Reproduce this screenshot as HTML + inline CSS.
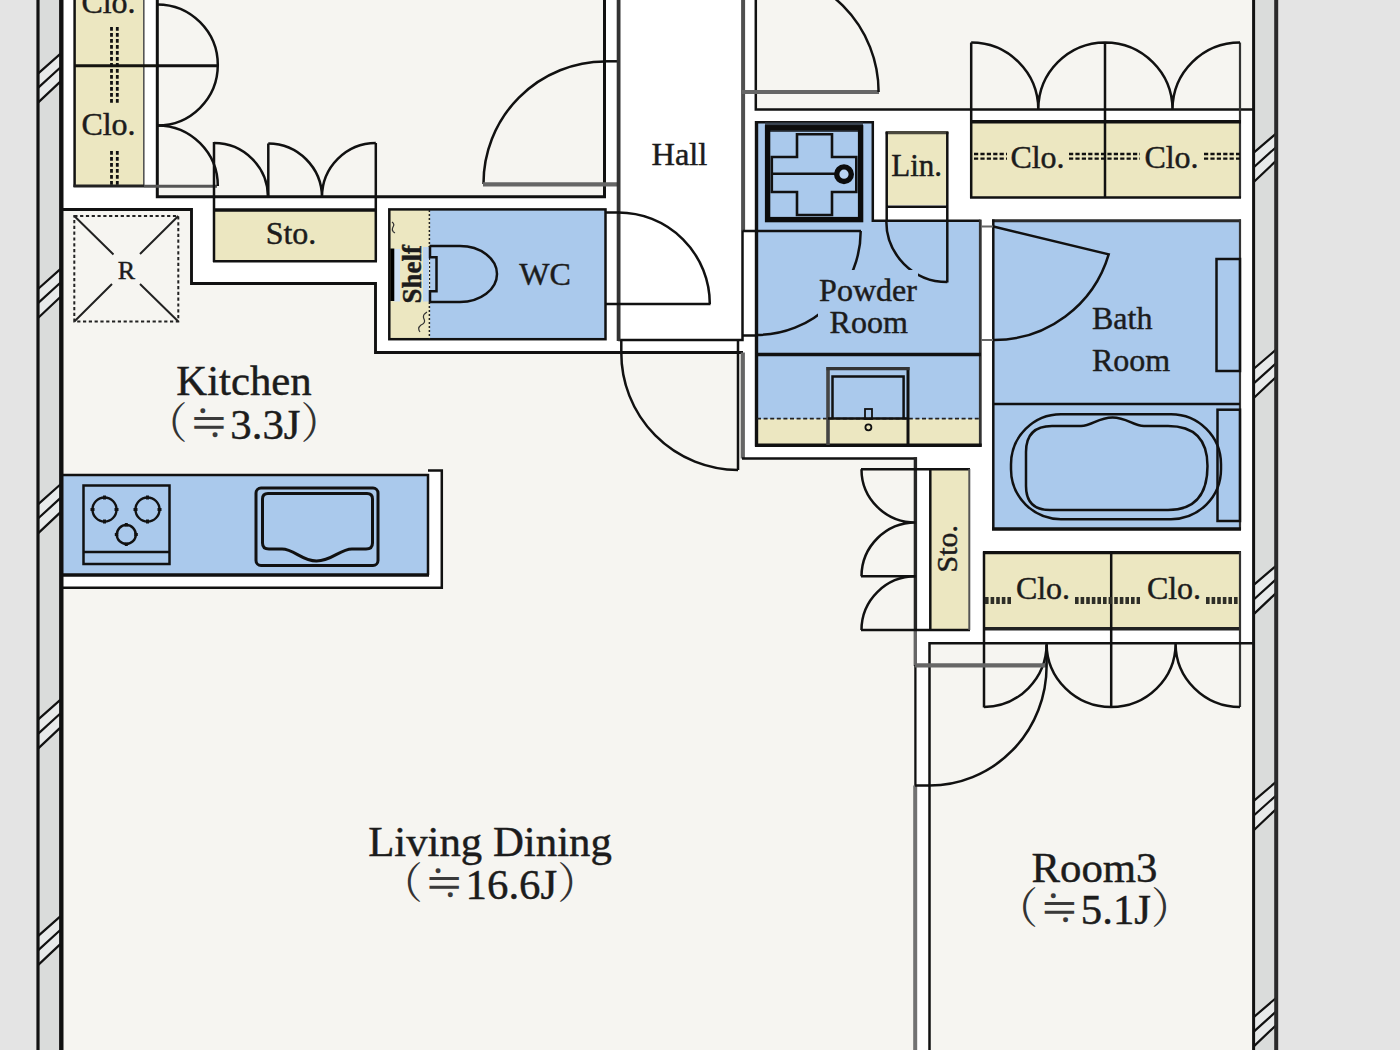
<!DOCTYPE html>
<html lang="ja">
<head>
<meta charset="utf-8">
<title>Floor Plan</title>
<style>
html,body{margin:0;padding:0;background:#e4e4e4;overflow:hidden;}
svg{display:block;}
.t{font-family:"Liberation Serif","Noto Serif CJK SC",serif;fill:#1c1c1c;stroke:#1c1c1c;stroke-width:0.45;}
.cj{font-family:"Noto Serif CJK JP","Noto Serif CJK SC",serif;stroke:none;fill:#333;}
.ip{font-family:"IPAGothic","Noto Sans CJK JP",sans-serif;stroke:none;fill:#3a3a3a;}
.l{fill:none;stroke:#111;stroke-width:2.5;}
.l3{fill:none;stroke:#111;stroke-width:3.4;}
.l1{fill:none;stroke:#111;stroke-width:1.5;}
.g{fill:none;stroke:#666;stroke-width:4.2;}
.room{fill:#f6f5f1;}
.blue{fill:#aac9ec;}
.yel{fill:#ece7c1;}
</style>
</head>
<body>
<svg width="1400" height="1050" viewBox="0 0 1400 1050">
<g id="plan">
<!-- ===== BASE ===== -->
<rect x="-20" y="-20" width="1440" height="1090" fill="#e4e4e4"/>
<rect x="38" y="-5" width="1238" height="1060" fill="#ffffff"/>

<!-- ===== FILLS ===== -->
<g id="fills">
<!-- outer wall bands -->
<rect x="38" y="-5" width="23" height="1060" fill="#dadcdb"/>
<rect x="1254" y="-5" width="22" height="1060" fill="#dadcdb"/>
<!-- top-left closets -->
<rect class="yel" x="75" y="-5" width="69" height="191"/>
<!-- top-left room -->
<rect class="room" x="157" y="-5" width="448" height="202"/>
<!-- kitchen + living dining -->
<path class="room" d="M62 209.5H191.5V283.5H375.5V352.5H744V459H916V1055H62Z"/>
<!-- sto horizontal -->
<rect class="yel" x="214" y="210" width="162" height="51"/>
<!-- WC -->
<rect class="yel" x="390" y="210" width="40" height="129"/>
<rect class="blue" x="430" y="210" width="175" height="129"/>
<!-- top-right room -->
<rect class="room" x="756" y="-5" width="498" height="115"/>
<!-- powder room -->
<path class="blue" d="M757 121H873V220H980V445H757Z"/>
<rect class="yel" x="757" y="419" width="223" height="26"/>
<!-- linen -->
<rect class="yel" x="886" y="132" width="61.5" height="73"/>
<!-- top-right closets -->
<rect class="yel" x="971" y="122" width="269" height="75"/>
<!-- bath -->
<rect class="blue" x="992.5" y="221" width="247.5" height="308"/>
<!-- sto vertical -->
<rect class="yel" x="930" y="469" width="40" height="161"/>
<!-- lower closets -->
<rect class="yel" x="984" y="552.5" width="256" height="76.5"/>
<!-- room3 -->
<rect class="room" x="929.5" y="643" width="324.5" height="412"/>
<!-- kitchen counter -->
<rect x="62" y="470" width="380" height="118" fill="#ffffff"/>
<rect class="room" x="62" y="460" width="366" height="15"/>
<rect class="blue" x="62" y="475" width="366" height="100"/>
</g>

<!-- window marks -->
<g id="marks">
<path d="M59.6 54.5L39.3 72.5V101.0L59.6 82.5Z" fill="#e8eaea"/><path d="M60.6 53.6L38.3 73.4M60.6 67.2L38.3 87.6M60.6 81.4L38.3 102.4" fill="none" stroke="#111" stroke-width="2.2"/>
<path d="M59.6 269.8L39.3 287.8V316.3L59.6 297.8Z" fill="#e8eaea"/><path d="M60.6 268.9L38.3 288.7M60.6 282.5L38.3 302.9M60.6 296.7L38.3 317.7" fill="none" stroke="#111" stroke-width="2.2"/>
<path d="M59.6 485.2L39.3 503.2V531.7L59.6 513.2Z" fill="#e8eaea"/><path d="M60.6 484.3L38.3 504.1M60.6 497.9L38.3 518.3M60.6 512.1L38.3 533.1" fill="none" stroke="#111" stroke-width="2.2"/>
<path d="M59.6 700.5L39.3 718.5V747.0L59.6 728.5Z" fill="#e8eaea"/><path d="M60.6 699.6L38.3 719.4M60.6 713.2L38.3 733.6M60.6 727.4L38.3 748.4" fill="none" stroke="#111" stroke-width="2.2"/>
<path d="M59.6 917.0L39.3 935.0V963.5L59.6 945.0Z" fill="#e8eaea"/><path d="M60.6 916.1L38.3 935.9M60.6 929.7L38.3 950.1M60.6 943.9L38.3 964.9" fill="none" stroke="#111" stroke-width="2.2"/>
<path d="M1275 134.5L1254.5 152.5V181.5L1275 162.0Z" fill="#e8eaea"/><path d="M1276 133.6L1253.5 152.9M1276 147.2L1253.5 167.5M1276 160.9L1253.5 182.2" fill="none" stroke="#111" stroke-width="2.2"/>
<path d="M1275 350.6L1254.5 368.6V397.6L1275 378.1Z" fill="#e8eaea"/><path d="M1276 349.7L1253.5 369.0M1276 363.3L1253.5 383.6M1276 377.0L1253.5 398.3" fill="none" stroke="#111" stroke-width="2.2"/>
<path d="M1275 566.7L1254.5 584.7V613.7L1275 594.2Z" fill="#e8eaea"/><path d="M1276 565.8L1253.5 585.1M1276 579.4L1253.5 599.7M1276 593.1L1253.5 614.4" fill="none" stroke="#111" stroke-width="2.2"/>
<path d="M1275 782.8L1254.5 800.8V829.8L1275 810.3Z" fill="#e8eaea"/><path d="M1276 781.9L1253.5 801.2M1276 795.5L1253.5 815.8M1276 809.2L1253.5 830.5" fill="none" stroke="#111" stroke-width="2.2"/>
<path d="M1275 998.9L1254.5 1016.9V1045.9L1275 1026.4Z" fill="#e8eaea"/><path d="M1276 998.0L1253.5 1017.3M1276 1011.6L1253.5 1031.9M1276 1025.3L1253.5 1046.6" fill="none" stroke="#111" stroke-width="2.2"/>
</g>
<!-- ===== OUTER WALLS ===== -->
<g id="outer">
<line x1="38" y1="-5" x2="38" y2="1055" stroke="#111" stroke-width="3.2"/>
<line x1="61.3" y1="-5" x2="61.3" y2="1055" stroke="#111" stroke-width="4.4"/>
<line x1="1253.6" y1="-5" x2="1253.6" y2="1055" stroke="#111" stroke-width="3"/>
<line x1="1276.2" y1="-5" x2="1276.2" y2="1055" stroke="#2a2a2a" stroke-width="4"/>
</g>

<!-- ===== LINES ===== -->
<g id="lines">
<!-- top-left room -->
<path class="l" style="stroke-width:3" d="M157.3 -5V196.800H604.500V-5"/>
<!-- kitchen/LD outline -->
<path class="l" style="stroke-width:2.9" d="M62 209.5H191.5V283.5H375.5V352.5H743"/>
<path class="g" d="M742.8 352.5V458.5" />
<path class="l" d="M742 458.500H917"/>
<line x1="915.400" y1="457.300" x2="915.400" y2="631" stroke="#262626" stroke-width="3.400"/>
<line x1="915.300" y1="630" x2="915.300" y2="666" stroke="#666" stroke-width="3.400"/>
<line x1="915.400" y1="665" x2="915.400" y2="786" stroke="#111" stroke-width="2.300"/>
<line x1="915.200" y1="785.500" x2="915.200" y2="1055" stroke="#727272" stroke-width="4"/>

<!-- top-left closets -->
<line class="l" x1="74.6" y1="-5" x2="74.6" y2="187"/>
<line x1="143.8" y1="-5" x2="143.8" y2="186" stroke="#555" stroke-width="1.6"/>
<line x1="75" y1="65.8" x2="157" y2="65.8" stroke="#15140f" stroke-width="3"/>
<line class="l" style="stroke-width:3" x1="157" y1="65.8" x2="217" y2="65.8"/>
<line x1="73.5" y1="186" x2="144" y2="186" stroke="#222" stroke-width="3"/>
<line x1="144" y1="186.3" x2="217" y2="186.3" stroke="#555" stroke-width="3"/>
<!-- closet hanger rails -->
<g stroke="#111" stroke-width="2.8" stroke-dasharray="3.8 2.2" fill="none">
<path d="M111.5 27V104M117.3 27V104"/>
<path d="M111.5 151V186M117.3 151V186"/>
</g>
<!-- closet bifold arcs -->
<path class="l" d="M157.3 4.5A60.5 60.5 0 0 1 157.3 125.5"/>
<path class="l" d="M157.3 125.5A60.5 60.5 0 0 1 217.8 186"/>
<!-- sto (horizontal) doors + box -->
<path class="l" d="M214 142V262M268.3 143.5V197M375.8 143V261.5"/>
<path class="l" d="M214 143A54 54 0 0 1 268 197M268.3 143.5A54 54 0 0 1 322 197M375.8 143A54 54 0 0 0 322 197"/>
<line class="l3" x1="214" y1="210" x2="376" y2="210"/>
<line class="l" x1="213" y1="261.3" x2="377" y2="261.3"/>
<!-- room door -->
<line class="l" x1="605" y1="61.3" x2="619" y2="61.3"/>
<path class="l" d="M605 61.5A122 122 0 0 0 483.5 184"/>
<line class="g" x1="483" y1="184.3" x2="618" y2="184.3"/>
<!-- hall -->
<path class="l" d="M618.3 340H742.5V230"/>
<line x1="618.600" y1="-5" x2="618.600" y2="341" stroke="#333" stroke-width="3.800"/>
<line x1="743.100" y1="-5" x2="743.100" y2="231" stroke="#505050" stroke-width="4"/>
<path class="l" d="M621.3 340V352.5M738 340V470"/>
<path class="l" d="M621.3 352.5A117 117 0 0 0 738 470"/>
<!-- WC -->
<rect class="l" x="389.3" y="209.4" width="216.2" height="129.8"/>
<line x1="429.4" y1="210" x2="429.4" y2="339" stroke="#222" stroke-width="1.5" stroke-dasharray="2 2"/>
<rect x="393.5" y="249" width="6.5" height="52.5" fill="#cfe1f6"/>
<rect x="423" y="247" width="6" height="54.5" fill="#bcd5f1"/>
<line x1="392.3" y1="248.5" x2="392.3" y2="301" stroke="#000" stroke-width="4"/>
<path class="l" d="M429.5 246H460A37 28 0 0 1 460 302H429.5"/>
<path class="l" d="M430 246V257.3H436.5V291.3H430V302"/>
<path d="M392 222q3 2 1 5q-2 4 2 6M427 312q-5 3 -3 7q2 4 -3 6q-4 3 -1 7" fill="none" stroke="#333" stroke-width="1.200"/>
<!-- WC door -->
<line class="l" x1="605" y1="212.5" x2="619" y2="212.5"/>
<path class="l" d="M618.3 212.5A91.5 91.5 0 0 1 709.8 304"/>
<line class="l" x1="605" y1="304" x2="710.5" y2="304"/>
<!-- refrigerator box -->
<rect x="74.3" y="216" width="104" height="105.5" fill="none" stroke="#222" stroke-width="2" stroke-dasharray="3.2 2.6"/>
<path d="M74.3 216L113.5 254.5M178.3 216L140 254M74.3 321.5L112 284M178.3 321.5L140 284" fill="none" stroke="#222" stroke-width="2"/>
<!-- kitchen counter -->
<path class="l" d="M62 475H428V575"/>
<line class="l3" x1="62" y1="575" x2="429" y2="575"/>
<path class="l" d="M428 470.5H441.8V587.8H62"/>
<rect class="l" x="83.5" y="485.5" width="86" height="78.5"/>
<line class="l" x1="83.5" y1="552" x2="169.5" y2="552"/>
<g class="l1" style="stroke-width:2.4">
<circle cx="104.5" cy="509.5" r="12"/><circle cx="147.5" cy="509.5" r="12"/><circle cx="126.3" cy="534.5" r="9.5"/>
</g>
<g stroke="#111" stroke-width="3" fill="none">
<path d="M104.5 495.5v4M104.5 519.5v4M90.5 509.5h4M114.5 509.5h4"/>
<path d="M147.5 495.5v4M147.5 519.5v4M133.5 509.5h4M157.5 509.5h4"/>
<path d="M126.3 523v3.5M126.3 542.5v3.5M114.8 534.5h3.5M134.3 534.5h3.5"/>
</g>
<rect class="l" style="stroke-width:3" x="256" y="488" width="122" height="77.5" rx="5" ry="5"/>
<path class="l" style="stroke-width:3" d="M268 493.5H367Q372.5 493.500 372.500 499V543Q372.500 549 366 549H352C340 549 332 561 316.500 561C302 561 294 549 282 549H269Q262.500 549 262.500 543V499Q262.500 493.500 268 493.500Z"/>

<!-- ===== right half ===== -->
<!-- top-right room -->
<path class="l" d="M755.8 -5V109.5H1254"/>
<line class="g" x1="742" y1="92" x2="879" y2="92"/>
<path class="l" d="M878.6 92A122 122 0 0 0 756.6 -30"/>
<!-- top-right closets -->
<path class="l" d="M971.2 42.5V198M1105 42.5V197.5"/>
<line x1="1240" y1="42.5" x2="1240" y2="198" stroke="#333" stroke-width="2.2"/>
<line class="l3" x1="970" y1="121.8" x2="1241" y2="121.8"/>
<line class="l" x1="970" y1="197.5" x2="1241" y2="197.5"/>
<path class="l" d="M971.2 42.5A67 67 0 0 1 1038.3 109.5M1105 42.5A67 67 0 0 0 1038.3 109.5M1105 42.5A67.500 67 0 0 1 1172.500 109.500M1240 42.500A67.500 67 0 0 0 1172.500 109.500"/>
<g stroke="#111" stroke-width="2.3" stroke-dasharray="4.2 2.2" fill="none">
<path d="M974 154H1007M974 158.600H1007"/>
<path d="M1069 154H1140M1069 158.600H1140"/>
<path d="M1204 154H1240M1204 158.600H1240"/>
</g>
<!-- powder room -->
<path class="l" d="M756.7 122.300H872.800V220.700H980.500"/>
<line class="l3" x1="756.500" y1="121" x2="756.500" y2="446.500"/>
<line x1="980.300" y1="219.600" x2="980.300" y2="446.500" stroke="#333" stroke-width="2.800"/>
<line class="l3" x1="755" y1="445.200" x2="981.700" y2="445.200"/>
<line class="l3" x1="756" y1="354.500" x2="981" y2="354.500"/>
<!-- washer -->
<rect x="765" y="122.500" width="98" height="9.500" fill="#38424f"/>
<rect x="767.600" y="127.800" width="93" height="91.800" fill="none" stroke="#0c0c0c" stroke-width="5.400"/>
<path d="M797 134.300H832V157H856.300V192H832V215H797V192H771.800V157H797Z" fill="none" stroke="#111" stroke-width="2.600"/>
<line x1="771" y1="173.800" x2="836" y2="173.800" stroke="#111" stroke-width="2.600"/>
<circle cx="844" cy="174.200" r="7.300" fill="#b9d4f3" stroke="#0c0c0c" stroke-width="5.400"/>
<!-- powder door -->
<line class="l" x1="742.500" y1="231" x2="861" y2="231"/>
<path class="l" d="M860.700 231A104 104 0 0 1 756.700 335"/>
<line class="l" x1="742.500" y1="335.500" x2="757" y2="335.500"/>
<!-- linen -->
<line x1="885.600" y1="132.600" x2="948.400" y2="132.600" stroke="#4a483e" stroke-width="3.400"/>
<path class="l" d="M886.700 132V221M947.300 132V282.500M886 206.800H948"/>
<path class="l" d="M886.300 220.700A61 61 0 0 0 947.300 282"/>
<!-- vanity -->
<line x1="757" y1="418.600" x2="980" y2="418.600" stroke="#222" stroke-width="1.600" stroke-dasharray="4 2.600"/>
<line x1="828" y1="367" x2="828" y2="445" stroke="#444" stroke-width="3.600"/>
<line x1="908" y1="367" x2="908" y2="445" stroke="#111" stroke-width="3"/>
<line x1="826.500" y1="368.600" x2="909.500" y2="368.600" stroke="#333" stroke-width="3.200"/>
<path class="l" d="M832.500 418.500V376.600H903.600V418.500"/>
<line class="l" x1="828" y1="418.500" x2="908" y2="418.500"/>
<rect x="865" y="409" width="7" height="10" fill="none" stroke="#111" stroke-width="1.800"/>
<circle cx="868.400" cy="427.300" r="3" fill="none" stroke="#111" stroke-width="1.800"/>
<!-- bath -->
<line x1="992" y1="220.800" x2="1241" y2="220.800" stroke="#2a2a2a" stroke-width="3"/>
<line class="l" x1="993.300" y1="219.500" x2="993.300" y2="530"/>
<line x1="1240" y1="219.500" x2="1240" y2="530" stroke="#333" stroke-width="2.200"/>
<line class="l3" x1="992" y1="529" x2="1241" y2="529"/>
<line class="l" x1="993" y1="404" x2="1240" y2="404"/>
<path class="l" d="M993.300 226.500L1108.700 254.300A119.500 119.500 0 0 1 993.300 340"/>
<path d="M981 226.500H993M981 340H993" fill="none" stroke="#666" stroke-width="2"/>
<rect class="l" x="1216.500" y="259" width="23.500" height="112"/>
<rect class="l" x="1217.500" y="409.700" width="22.500" height="111.300"/>
<!-- tub -->
<rect class="l" x="1011" y="414.200" width="210" height="105" rx="50" ry="50"/>
<path class="l" d="M1052 426H1081C1092 426 1098 417.500 1112.500 417.500C1127 417.500 1133 426 1144 426H1168Q1207.500 426 1207.500 466Q1207.500 510 1168 510H1050Q1026 510 1026 486V452Q1026 426 1052 426Z"/>
<!-- sto vertical -->
<path class="l" d="M970 469.300H861M930.300 469V630M861 576.300H915.500M861 630H970"/>
<line x1="969.300" y1="469" x2="969.300" y2="630" stroke="#555" stroke-width="2"/>
<path class="l" d="M861.500 469.300A54 53 0 0 0 915.500 522.500A54 54 0 0 0 861.500 576.300M915.500 576.300A54 53.700 0 0 0 861.500 630"/>
<!-- lower closets -->
<line class="l3" x1="983" y1="552.600" x2="1241" y2="552.600"/>
<line x1="983" y1="628.800" x2="1241" y2="628.800" stroke="#222" stroke-width="3.600"/>
<path class="l" d="M984 551.500V707.500M1111.200 551.500V707"/>
<line x1="1240" y1="551.500" x2="1240" y2="707" stroke="#333" stroke-width="2.200"/>
<path class="l" d="M984 707A63 63.500 0 0 0 1046.600 643.500A64.500 63.500 0 0 0 1111.200 707A64.400 63.500 0 0 0 1175.600 643.500A64.400 63.500 0 0 0 1240 707"/>
<g stroke="#2e2e27" stroke-width="7" stroke-dasharray="3.600 2" fill="none">
<path d="M985 600.400H1012M1075 600.400H1140M1206 600.400H1240"/>
</g>
<!-- room3 -->
<path class="l" d="M929.500 1055V643.300H1254"/>
<line class="g" x1="915" y1="665.400" x2="1047" y2="665.400"/>
<path class="l" d="M1046.600 645V666A117.100 119.500 0 0 1 929.500 785.500H915"/>
</g>

<!-- ===== TEXT ===== -->
<g id="text">
<rect class="blue" x="818" y="270" width="100" height="68"/>
<text class="t" x="108.500" y="12.500" font-size="32" text-anchor="middle">Clo.</text>
<text class="t" x="108.500" y="135" font-size="32" text-anchor="middle">Clo.</text>
<text class="t" x="291" y="243.700" font-size="32" text-anchor="middle">Sto.</text>
<text class="t" x="126.300" y="279.300" font-size="26" text-anchor="middle">R</text>
<text class="t" x="244" y="395" font-size="42.800" text-anchor="middle">Kitchen</text>
<text class="t" x="244" y="439" font-size="42.800" text-anchor="middle"><tspan class="cj">（</tspan><tspan class="ip">≒</tspan>3.3J<tspan class="cj">）</tspan></text>
<text class="t" x="545" y="285" font-size="32" text-anchor="middle">WC</text>
<text class="t" transform="translate(421.400 303.600) rotate(-90)" font-size="27" font-weight="bold">Shelf</text>
<text class="t" x="679.400" y="165" font-size="32.500" text-anchor="middle">Hall</text>
<text class="t" x="916.700" y="176" font-size="31" text-anchor="middle">Lin.</text>
<text class="t" x="1037.500" y="167.500" font-size="32" text-anchor="middle">Clo.</text>
<text class="t" x="1171.500" y="167.500" font-size="32" text-anchor="middle">Clo.</text>
<text class="t" x="868" y="301" font-size="32" text-anchor="middle">Powder</text>
<text class="t" x="868.700" y="332.500" font-size="32" text-anchor="middle">Room</text>
<text class="t" x="1092" y="329" font-size="32">Bath</text>
<text class="t" x="1092" y="371" font-size="32">Room</text>
<text class="t" transform="translate(957 548.700) rotate(-90)" font-size="30" text-anchor="middle">Sto.</text>
<text class="t" x="1043" y="599" font-size="32" text-anchor="middle">Clo.</text>
<text class="t" x="1174" y="599" font-size="32" text-anchor="middle">Clo.</text>
<text class="t" x="1094.500" y="882" font-size="42.800" text-anchor="middle">Room3</text>
<text class="t" x="1094.500" y="924" font-size="42.800" text-anchor="middle"><tspan class="cj">（</tspan><tspan class="ip">≒</tspan>5.1J<tspan class="cj">）</tspan></text>
<text class="t" x="490" y="856" font-size="42.800" text-anchor="middle">Living Dining</text>
<text class="t" x="490" y="899" font-size="42.800" text-anchor="middle"><tspan class="cj">（</tspan><tspan class="ip">≒</tspan>16.6J<tspan class="cj">）</tspan></text>
</g>
</g>
</svg>
</body>
</html>
